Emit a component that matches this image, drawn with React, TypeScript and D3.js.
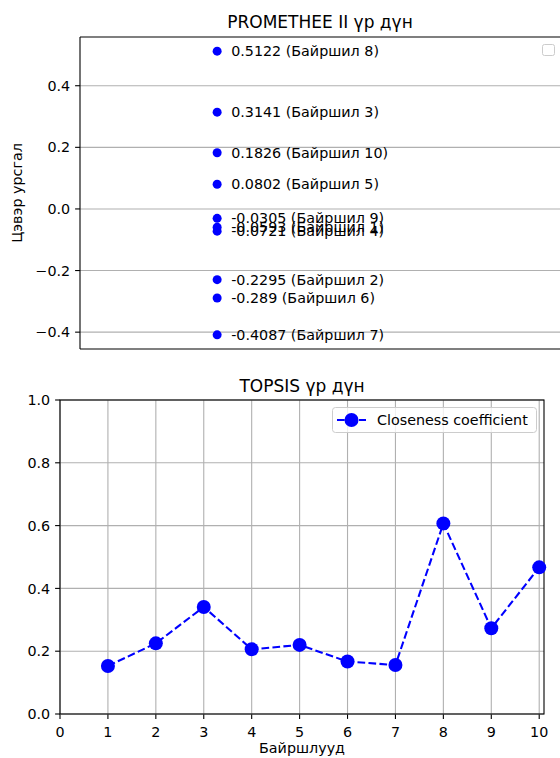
import React from "react";
import * as d3 from "d3";

// PROMETHEE II net flows
const promLocations = ["Байршил 1", "Байршил 2", "Байршил 3", "Байршил 4", "Байршил 5", "Байршил 6", "Байршил 7", "Байршил 8", "Байршил 9", "Байршил 10"];
const promValues = [-0.0593, -0.2295, 0.3141, -0.0721, 0.0802, -0.289, -0.4087, 0.5122, -0.0305, 0.1826];
const promYTicks = [-0.4, -0.2, 0.0, 0.2, 0.4];
const promYDomain = [-0.4547, 0.5582];
const promXDomain = [-1, 2.5];

// TOPSIS closeness coefficients
const topsisX = [1, 2, 3, 4, 5, 6, 7, 8, 9, 10];
const topsisValues = [0.153, 0.225, 0.341, 0.206, 0.22, 0.167, 0.156, 0.607, 0.273, 0.467];
const topsisXTicks = [0, 1, 2, 3, 4, 5, 6, 7, 8, 9, 10];
const topsisYTicks = [0.0, 0.2, 0.4, 0.6, 0.8, 1.0];
const topsisXDomain = [0, 10.1];
const topsisYDomain = [0, 1];

const FONT = "DejaVu Sans, sans-serif";
const GRID = "#b0b0b0";
const BLUE = "#0000ff";
const FS = 14.3;
const TFS = 17;

export default function App() {
  // top chart
  const t = { left: 80, right: 560, top: 37, bottom: 349 };
  const tx = d3.scaleLinear().domain(promXDomain).range([t.left, t.right]);
  const ty = d3.scaleLinear().domain(promYDomain).range([t.bottom, t.top]);

  // bottom chart
  const b = { left: 60, right: 544, top: 400, bottom: 714 };
  const bx = d3.scaleLinear().domain(topsisXDomain).range([b.left, b.right]);
  const by = d3.scaleLinear().domain(topsisYDomain).range([b.bottom, b.top]);
  const line = d3
    .line<number>()
    .x((_, i) => bx(topsisX[i]))
    .y((d) => by(d));

  const fmt1 = d3.format(".1f");
  const fmtNeg = (v: number) => fmt1(v).replace("-", "\u2212");

  return (
    <svg width={560} height={758} style={{ position: "absolute", left: 0, top: 0 }} fontFamily={FONT}>
      <rect width={560} height={758} fill="#fff" />
      {/* ===== Top chart ===== */}
      <text x={320} y={28} textAnchor="middle" fontSize={TFS} fill="#000">
        PROMETHEE II үр дүн
      </text>
      {promYTicks.map((v) => (
        <g key={"tg" + v}>
          <line x1={t.left} x2={t.right} y1={ty(v)} y2={ty(v)} stroke={GRID} strokeWidth={1.1} />
          <line x1={t.left - 4.9} x2={t.left} y1={ty(v)} y2={ty(v)} stroke="#000" strokeWidth={1.1} />
          <text x={t.left - 9.8} y={ty(v)} dy="0.36em" textAnchor="end" fontSize={FS} fill="#000">
            {fmtNeg(v)}
          </text>
        </g>
      ))}
      <line x1={t.left} x2={t.right} y1={t.top} y2={t.top} stroke="#000" strokeWidth={1.1} />
      <line x1={t.left} x2={t.right} y1={t.bottom} y2={t.bottom} stroke="#000" strokeWidth={1.1} />
      <line x1={t.left} x2={t.left} y1={t.top} y2={t.bottom} stroke="#000" strokeWidth={1.1} />
      <text
        transform={`translate(22,${(t.top + t.bottom) / 2}) rotate(-90)`}
        textAnchor="middle"
        fontSize={FS}
        fill="#000"
      >
        Цэвэр урсгал
      </text>
      {promValues.map((v, i) => (
        <g key={"pp" + i}>
          <circle cx={tx(0)} cy={ty(v)} r={4.5} fill={BLUE} />
          <text x={tx(0) + 14} y={ty(v)} dy="0.36em" fontSize={FS} fill="#000">
            {`${v} (${promLocations[i]})`}
          </text>
        </g>
      ))}
      {/* empty legend */}
      <rect x={542.5} y={44.5} width={12} height={11} rx={2} fill="#fff" fillOpacity={0.8} stroke="#cccccc" strokeWidth={1} />

      {/* ===== Bottom chart ===== */}
      <text x={(b.left + b.right) / 2} y={391.5} textAnchor="middle" fontSize={TFS} fill="#000">
        TOPSIS үр дүн
      </text>
      {topsisXTicks.map((v) => (
        <g key={"bx" + v}>
          <line x1={bx(v)} x2={bx(v)} y1={b.top} y2={b.bottom} stroke={GRID} strokeWidth={1.1} />
          <line x1={bx(v)} x2={bx(v)} y1={b.bottom} y2={b.bottom + 4.9} stroke="#000" strokeWidth={1.1} />
          <text x={bx(v)} y={b.bottom + 22.5} textAnchor="middle" fontSize={FS} fill="#000">
            {v}
          </text>
        </g>
      ))}
      {topsisYTicks.map((v) => (
        <g key={"by" + v}>
          <line x1={b.left} x2={b.right} y1={by(v)} y2={by(v)} stroke={GRID} strokeWidth={1.1} />
          <line x1={b.left - 4.9} x2={b.left} y1={by(v)} y2={by(v)} stroke="#000" strokeWidth={1.1} />
          <text x={b.left - 9.8} y={by(v)} dy="0.36em" textAnchor="end" fontSize={FS} fill="#000">
            {fmt1(v)}
          </text>
        </g>
      ))}
      <rect x={b.left} y={b.top} width={b.right - b.left} height={b.bottom - b.top} fill="none" stroke="#000" strokeWidth={1.1} />
      <path d={line(topsisValues) || ""} fill="none" stroke={BLUE} strokeWidth={2.08} strokeDasharray="7.7 3.3" />
      {topsisValues.map((v, i) => (
        <circle key={"tp" + i} cx={bx(topsisX[i])} cy={by(v)} r={7} fill={BLUE} />
      ))}
      <text x={(b.left + b.right) / 2} y={753} textAnchor="middle" fontSize={FS} fill="#000">
        Байршлууд
      </text>
      {/* legend */}
      <rect x={332.5} y={407.5} width={204} height={25} rx={3} fill="#fff" fillOpacity={0.8} stroke="#cccccc" strokeWidth={1} />
      <line x1={337} x2={366} y1={420} y2={420} stroke={BLUE} strokeWidth={2.08} strokeDasharray="7.7 3.3" />
      <circle cx={351.5} cy={420} r={7} fill={BLUE} />
      <text x={377} y={420} dy="0.36em" fontSize={FS} fill="#000">
        Closeness coefficient
      </text>
    </svg>
  );
}
